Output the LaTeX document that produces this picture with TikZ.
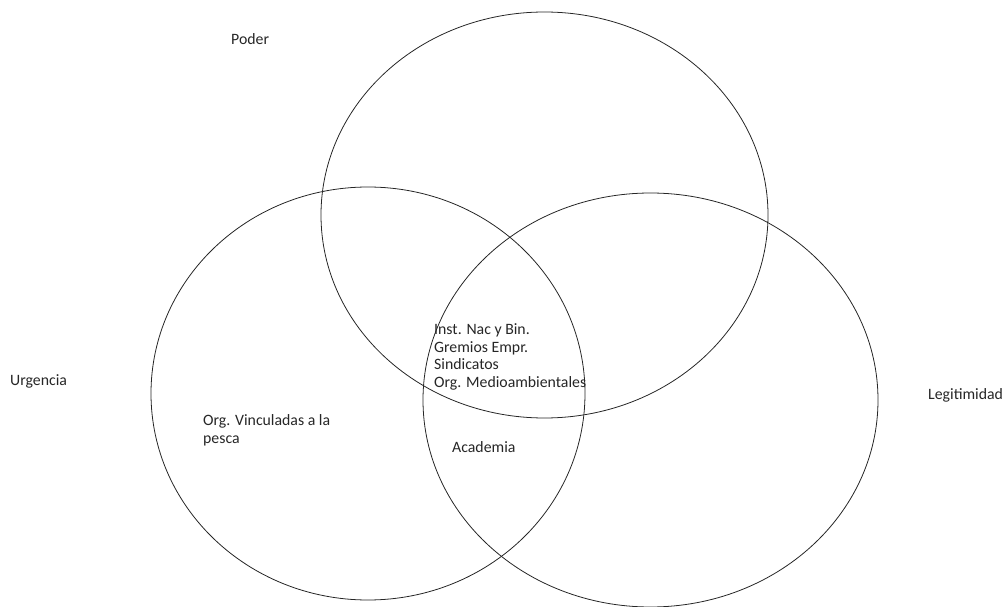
\documentclass[tikz,border=0pt]{standalone}
\usepackage{fontspec}
\setmainfont{Carlito}
\begin{document}
\begin{tikzpicture}[
    x=1pt, y=-1pt,
    line cap=round,
    line join=round,
    set/.style={draw=black!85, line width=0.8pt},
    tag/.style={anchor=base west, inner sep=0pt, align=left,
                font=\fontsize{15.8}{17.4}\selectfont, text=black!85}
]
\useasboundingbox (0,0) rectangle (1005,607);

  \coordinate (P) at (544.5,215);
  \coordinate (U) at (368,393.5);
  \coordinate (L) at (650.5,400);

  \draw[set] (P) ellipse [x radius=223.5, y radius=203];
  \draw[set] (U) ellipse [x radius=217, y radius=206.5];
  \draw[set] (L) ellipse [x radius=227.5, y radius=207];

  \node[tag] (poder)    at (231,45)  {Poder};
  \node[tag] (urgencia) at (10,385)  {Urgencia};
  \node[tag] (legit)    at (928,399) {Legitimidad};
  \node[tag] (vinc)     at (203,443) {Org. Vinculadas a la\\pesca};
  \node[tag] (centro)   at (434,387) {Inst. Nac y Bin.\\Gremios Empr.\\Sindicatos\\Org. Medioambientales};
  \node[tag] (acad)     at (452,452) {Academia};
\end{tikzpicture}
\end{document}
